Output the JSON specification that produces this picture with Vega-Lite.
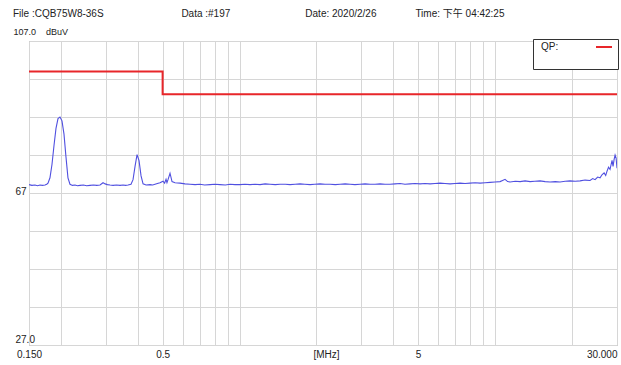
{
  "$schema": "https://vega.github.io/schema/vega-lite/v6.json",
  "width": 588,
  "height": 304,
  "autosize": {"type": "none"},
  "padding": {"left": 29, "top": 41, "right": 4, "bottom": 20},
  "background": "white",
  "title": {
    "text": "File :CQB75W8-36S\u00a0\u00a0\u00a0\u00a0\u00a0\u00a0\u00a0\u00a0\u00a0\u00a0\u00a0\u00a0\u00a0\u00a0\u00a0\u00a0\u00a0\u00a0\u00a0\u00a0\u00a0\u00a0\u00a0\u00a0\u00a0\u00a0\u00a0\u00a0Data :#197\u00a0\u00a0\u00a0\u00a0\u00a0\u00a0\u00a0\u00a0\u00a0\u00a0\u00a0\u00a0\u00a0\u00a0\u00a0\u00a0\u00a0\u00a0\u00a0\u00a0\u00a0\u00a0\u00a0\u00a0\u00a0\u00a0\u00a0Date: 2020/2/26\u00a0\u00a0\u00a0\u00a0\u00a0\u00a0\u00a0\u00a0\u00a0\u00a0\u00a0\u00a0\u00a0\u00a0Time: 下午 04:42:25",
    "anchor": "start",
    "frame": "group",
    "dx": -16,
    "dy": -3,
    "fontSize": 10,
    "fontWeight": "normal",
    "font": "Liberation Sans, Noto Sans CJK TC, sans-serif",
    "color": "#222",
    "baseline": "middle",
    "offset": 0
  },
  "config": {
    "view": {"stroke": "#a0a0a0", "strokeWidth": 1},
    "font": "Liberation Sans",
    "axis": {
      "gridColor": "#d6d6d6",
      "gridWidth": 1,
      "domain": false,
      "ticks": false,
      "tickSize": 0,
      "tickCount": 100,
      "labelFont": "Liberation Sans",
      "labelFontSize": 10,
      "labelColor": "#222",
      "titleFont": "Liberation Sans",
      "titleFontWeight": "normal",
      "titleColor": "#222"
    }
  },
  "datasets": {
    "trace": [
      {"f":0.150,"v":69.2},{"f":0.154,"v":69.0},{"f":0.1583,"v":69.1},{"f":0.162,"v":68.9},{"f":0.1656,"v":69.1},
      {"f":0.169,"v":69.0},{"f":0.1733,"v":69.1},{"f":0.176,"v":69.3},{"f":0.178,"v":69.6},{"f":0.1812,"v":71.0},
      {"f":0.1845,"v":74.5},{"f":0.1879,"v":79.5},{"f":0.1913,"v":84.0},{"f":0.1948,"v":86.6},{"f":0.1983,"v":87.0},
      {"f":0.2019,"v":86.0},{"f":0.2056,"v":82.5},{"f":0.2093,"v":76.5},{"f":0.2131,"v":71.0},{"f":0.2170,"v":69.3},
      {"f":0.222,"v":69.0},{"f":0.2271,"v":69.1},{"f":0.232,"v":68.9},{"f":0.2375,"v":69.0},{"f":0.245,"v":69.1},
      {"f":0.252,"v":68.9},{"f":0.260,"v":69.0},{"f":0.268,"v":69.1},{"f":0.276,"v":69.0},{"f":0.2845,"v":69.1},
      {"f":0.2923,"v":69.7},{"f":0.298,"v":69.4},{"f":0.304,"v":69.2},{"f":0.3112,"v":69.1},{"f":0.320,"v":69.0},
      {"f":0.330,"v":69.1},{"f":0.3407,"v":69.0},{"f":0.350,"v":69.1},{"f":0.358,"v":69.0},{"f":0.3661,"v":69.1},
      {"f":0.3761,"v":69.3},{"f":0.3830,"v":70.5},{"f":0.3900,"v":74.0},{"f":0.3971,"v":77.1},{"f":0.4043,"v":75.5},
      {"f":0.4117,"v":71.5},{"f":0.4192,"v":69.4},{"f":0.4307,"v":69.1},{"f":0.4464,"v":69.2},{"f":0.457,"v":69.1},
      {"f":0.467,"v":69.3},{"f":0.477,"v":69.5},{"f":0.4884,"v":69.7},{"f":0.5018,"v":70.1},{"f":0.509,"v":69.6},
      {"f":0.5156,"v":70.6},{"f":0.520,"v":69.7},{"f":0.5249,"v":70.5},{"f":0.5345,"v":72.2},{"f":0.5442,"v":70.0},
      {"f":0.5591,"v":69.7},{"f":0.5849,"v":69.6},{"f":0.612,"v":69.4},{"f":0.640,"v":69.3},{"f":0.670,"v":69.2},
      {"f":0.7005,"v":69.3},{"f":0.730,"v":69.1},{"f":0.7665,"v":69.2},{"f":0.800,"v":69.3},{"f":0.8388,"v":69.2},
      {"f":0.880,"v":69.1},{"f":0.9177,"v":69.3},{"f":0.960,"v":69.2},{"f":1.004,"v":69.2},{"f":1.050,"v":69.3},
      {"f":1.099,"v":69.2},{"f":1.150,"v":69.3},{"f":1.2026,"v":69.2},{"f":1.260,"v":69.4},{"f":1.316,"v":69.3},
      {"f":1.380,"v":69.2},{"f":1.440,"v":69.3},{"f":1.510,"v":69.3},{"f":1.576,"v":69.2},{"f":1.650,"v":69.3},
      {"f":1.725,"v":69.4},{"f":1.800,"v":69.3},{"f":1.888,"v":69.2},{"f":1.970,"v":69.3},{"f":2.066,"v":69.4},
      {"f":2.160,"v":69.3},{"f":2.261,"v":69.3},{"f":2.370,"v":69.2},{"f":2.474,"v":69.3},{"f":2.590,"v":69.4},
      {"f":2.707,"v":69.3},{"f":2.830,"v":69.2},{"f":2.962,"v":69.3},{"f":3.100,"v":69.4},{"f":3.242,"v":69.3},
      {"f":3.390,"v":69.3},{"f":3.548,"v":69.4},{"f":3.710,"v":69.3},{"f":3.882,"v":69.3},{"f":4.060,"v":69.4},
      {"f":4.249,"v":69.5},{"f":4.440,"v":69.3},{"f":4.649,"v":69.4},{"f":4.860,"v":69.5},{"f":5.087,"v":69.4},
      {"f":5.320,"v":69.5},{"f":5.567,"v":69.4},{"f":5.820,"v":69.5},{"f":6.092,"v":69.6},{"f":6.370,"v":69.5},
      {"f":6.666,"v":69.4},{"f":6.970,"v":69.5},{"f":7.295,"v":69.6},{"f":7.630,"v":69.5},{"f":7.983,"v":69.6},
      {"f":8.350,"v":69.7},{"f":8.736,"v":69.6},{"f":9.140,"v":69.7},{"f":9.560,"v":69.8},{"f":10.0,"v":69.9},
      {"f":10.46,"v":70.0},{"f":10.70,"v":70.3},{"f":10.94,"v":70.6},{"f":11.20,"v":70.0},{"f":11.45,"v":69.9},
      {"f":12.00,"v":70.1},{"f":12.53,"v":70.0},{"f":13.10,"v":70.2},{"f":13.71,"v":70.0},{"f":14.30,"v":70.1},
      {"f":15.00,"v":70.2},{"f":15.70,"v":70.0},{"f":16.41,"v":69.9},{"f":17.20,"v":70.0},{"f":17.96,"v":69.9},
      {"f":18.80,"v":70.1},{"f":19.65,"v":70.2},{"f":20.60,"v":70.1},{"f":21.51,"v":70.2},{"f":22.50,"v":70.4},
      {"f":23.53,"v":70.3},{"f":24.10,"v":70.8},{"f":24.62,"v":70.5},{"f":25.20,"v":71.2},{"f":25.76,"v":71.0},
      {"f":26.20,"v":71.8},{"f":26.71,"v":72.3},{"f":27.10,"v":71.6},{"f":27.44,"v":72.8},{"f":27.80,"v":73.8},
      {"f":28.18,"v":73.2},{"f":28.45,"v":74.5},{"f":28.69,"v":75.6},{"f":28.95,"v":74.0},{"f":29.22,"v":75.8},
      {"f":29.49,"v":77.0},{"f":29.76,"v":76.2},{"f":30.0,"v":73.5}
    ],
    "limit": [
      {"f":0.15,"v":99,"s":"QP:"},{"f":0.5,"v":93,"s":"QP:"},{"f":30,"v":93,"s":"QP:"}
    ]
  },
  "layer": [
    {
      "data": {"name": "trace"},
      "mark": {"type": "line", "color": "#5050e0", "strokeWidth": 1.1, "clip": true},
      "encoding": {
        "x": {
          "field": "f", "type": "quantitative",
          "scale": {"type": "log", "domain": [0.15, 30], "nice": false},
          "axis": {
            "values": [0.15,0.2,0.3,0.4,0.5,0.6,0.7,0.8,0.9,1,2,3,4,5,6,7,8,9,10,20,30],
            "tickCount": 100,
            "labelExpr": "datum.value == 0.15 ? '0.150' : datum.value == 0.5 ? '0.5' : datum.value == 5 ? '5' : datum.value == 30 ? '30.000' : ''",
            "labelAlign": {"condition": {"test": "datum.value >= 29", "value": "right"}, "value": "center"},
            "labelPadding": 4,
            "labelOverlap": false,
            "labelFlush": false,
            "title": "[MHz]",
            "titleFontSize": 10,
            "titleX": 297,
            "titleY": 4,
            "titleBaseline": "top",
            "titleAlign": "center"
          }
        },
        "y": {
          "field": "v", "type": "quantitative",
          "scale": {"domain": [27, 107], "nice": false, "zero": false},
          "axis": {
            "values": [27,37,47,57,67,77,87,97,107],
            "tickCount": 100,
            "labelExpr": "datum.value == 27 ? '27.0' : datum.value == 67 ? '67' : ''",
            "labelAlign": "left",
            "labelPadding": 14,
            "labelOffset": {"condition": {"test": "datum.value == 27", "value": -6}, "value": -2},
            "labelOverlap": false,
            "title": "107.0\u00a0\u00a0\u00a0\u00a0dBuV",
            "titleFontSize": 9,
            "titleAngle": 0,
            "titleAlign": "left",
            "titleBaseline": "middle",
            "titleX": -16,
            "titleY": -10
          }
        }
      }
    },
    {
      "data": {"name": "limit"},
      "mark": {"type": "line", "interpolate": "step-after", "strokeWidth": 2},
      "encoding": {
        "x": {"field": "f", "type": "quantitative"},
        "y": {"field": "v", "type": "quantitative"},
        "color": {
          "field": "s", "type": "nominal",
          "scale": {"domain": ["QP:"], "range": ["#e8262a"]},
          "legend": {
            "orient": "none",
            "legendX": 504,
            "legendY": -2,
            "title": "\u00a0\u00a0\u00a0\u00a0\u00a0\u00a0\u00a0\u00a0\u00a0\u00a0\u00a0\u00a0\u00a0\u00a0\u00a0\u00a0\u00a0\u00a0\u00a0\u00a0\u00a0\u00a0\u00a0\u00a0\u00a0\u00a0\u00a0\u00a0",
            "titleOrient": "bottom",
            "titleFontSize": 10,
            "titleFont": "Liberation Sans",
            "titlePadding": 5,
            "strokeColor": "#333",
            "fillColor": "white",
            "padding": 2,
            "symbolType": "M-1.6,0H1.6",
            "symbolStrokeWidth": 2,
            "symbolSize": 100,
            "symbolOffset": 63,
            "labelOffset": -69,
            "labelFontSize": 10,
            "labelColor": "#222"
          }
        }
      }
    }
  ]
}
